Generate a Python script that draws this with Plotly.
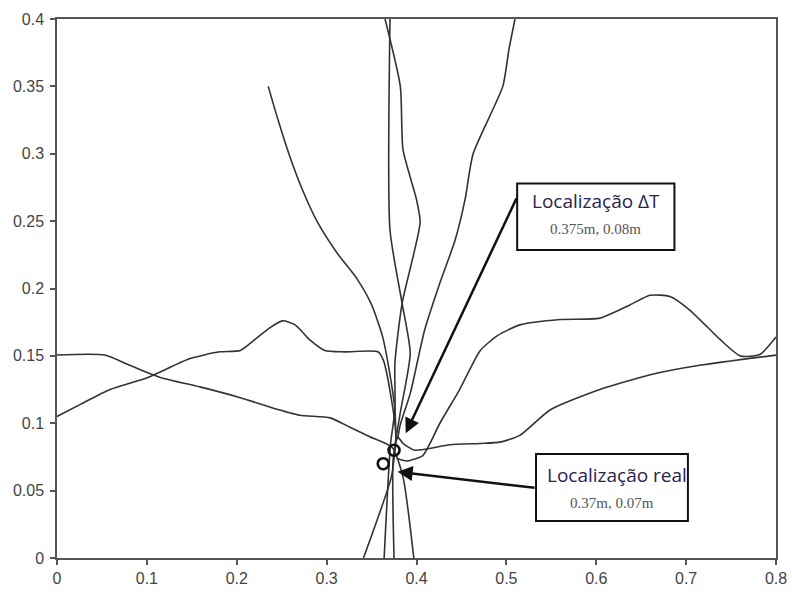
import plotly.graph_objects as go

# ---- data ----
a_x = [0.0, 0.053, 0.081, 0.115, 0.159, 0.204, 0.237, 0.270, 0.304, 0.326, 0.348, 0.373, 0.385, 0.397]
a_y = [0.1506, 0.1506, 0.143, 0.134, 0.127, 0.119, 0.112, 0.106, 0.104, 0.097, 0.090, 0.082, 0.060, 0.0]

b_x = [0.0, 0.026, 0.059, 0.101, 0.148, 0.181, 0.204, 0.220, 0.237, 0.251, 0.265, 0.281, 0.298, 0.320, 0.357, 0.363, 0.374, 0.378]
b_y = [0.105, 0.114, 0.125, 0.134, 0.148, 0.153, 0.154, 0.162, 0.171, 0.176, 0.173, 0.162, 0.154, 0.153, 0.153, 0.147, 0.110, 0.088]

c_x = [0.800, 0.782, 0.760, 0.738, 0.704, 0.682, 0.660, 0.638, 0.604, 0.560, 0.515, 0.490, 0.471, 0.448, 0.426, 0.415, 0.407, 0.389, 0.378]
c_y = [0.164, 0.151, 0.150, 0.162, 0.184, 0.194, 0.195, 0.188, 0.178, 0.177, 0.173, 0.165, 0.154, 0.125, 0.100, 0.085, 0.076, 0.072, 0.074]

d_x = [0.800, 0.715, 0.660, 0.604, 0.549, 0.515, 0.493, 0.471, 0.437, 0.398, 0.385, 0.379, 0.372, 0.341]
d_y = [0.1506, 0.143, 0.136, 0.125, 0.110, 0.091, 0.086, 0.085, 0.084, 0.080, 0.085, 0.090, 0.060, 0.0]

e_x = [0.3705, 0.3705, 0.384, 0.393, 0.382, 0.374, 0.375]
e_y = [0.400, 0.2434, 0.189, 0.152, 0.108, 0.073, 0.0]

f_x = [0.365, 0.382, 0.385, 0.400, 0.404, 0.384, 0.376, 0.376, 0.371, 0.364]
f_y = [0.400, 0.350, 0.303, 0.266, 0.249, 0.189, 0.145, 0.110, 0.084, 0.0]

g_x = [0.235, 0.246, 0.258, 0.272, 0.290, 0.312, 0.334, 0.350, 0.362, 0.370, 0.376, 0.377]
g_y = [0.350, 0.325, 0.300, 0.275, 0.249, 0.226, 0.207, 0.188, 0.165, 0.138, 0.110, 0.088]

h_x = [0.5096, 0.503, 0.496, 0.463, 0.454, 0.443, 0.426, 0.409, 0.393, 0.382, 0.379]
h_y = [0.400, 0.378, 0.350, 0.300, 0.266, 0.236, 0.204, 0.169, 0.122, 0.099, 0.088]

curves = [(a_x, a_y), (b_x, b_y), (c_x, c_y), (d_x, d_y),
          (e_x, e_y), (f_x, f_y), (g_x, g_y), (h_x, h_y)]

# marked locations
dt_loc = (0.375, 0.08)
real_loc = (0.363, 0.07)
dt_label = "Localização ΔT"
dt_value = "0.375m, 0.08m"
real_label = "Localização real"
real_value = "0.37m, 0.07m"

x_ticks = [0, 0.1, 0.2, 0.3, 0.4, 0.5, 0.6, 0.7, 0.8]
y_ticks = [0, 0.05, 0.1, 0.15, 0.2, 0.25, 0.3, 0.35, 0.4]

# ---- figure ----
fig = go.Figure()
for cx, cy in curves:
    fig.add_trace(go.Scatter(x=cx, y=cy, mode="lines",
                             line=dict(color="#333333", width=1.6, shape="spline", smoothing=0.6),
                             hoverinfo="skip"))

fig.add_trace(go.Scatter(x=[dt_loc[0], real_loc[0]], y=[dt_loc[1], real_loc[1]],
                         mode="markers",
                         marker=dict(symbol="circle-open", size=11, color="#111111",
                                     line=dict(width=2.6, color="#111111"))))

# arrows
fig.add_annotation(x=0.388, y=0.0925, ax=0.512, ay=0.268, xref="x", yref="y",
                   axref="x", ayref="y", showarrow=True, arrowhead=2,
                   arrowsize=1.2, arrowwidth=2.5, arrowcolor="#111111", text="")
fig.add_annotation(x=0.379, y=0.064, ax=0.533, ay=0.052, xref="x", yref="y",
                   axref="x", ayref="y", showarrow=True, arrowhead=2,
                   arrowsize=1.2, arrowwidth=2.5, arrowcolor="#111111", text="")

# label boxes
fig.add_shape(type="rect", xref="x", yref="y", x0=0.512, x1=0.687, y0=0.2285, y1=0.278,
              line=dict(color="#111111", width=2), fillcolor="white", layer="above")
fig.add_shape(type="rect", xref="x", yref="y", x0=0.533, x1=0.702, y0=0.0275, y1=0.0772,
              line=dict(color="#111111", width=2), fillcolor="white", layer="above")

label_font = dict(family="Open Sans", size=19, color="#2b2250")
value_font = dict(family="Liberation Serif", size=15, color="#555555")

fig.add_annotation(x=0.5997, y=0.2649, xref="x", yref="y", showarrow=False,
                   text=dt_label, font=label_font)
fig.add_annotation(x=0.5997, y=0.2442, xref="x", yref="y", showarrow=False,
                   text=dt_value, font=value_font)
fig.add_annotation(x=0.6236, y=0.0616, xref="x", yref="y", showarrow=False,
                   text=real_label, font=label_font)
fig.add_annotation(x=0.617, y=0.0408, xref="x", yref="y", showarrow=False,
                   text=real_value, font=value_font)

axis_common = dict(showgrid=False, zeroline=False, showline=True, linecolor="#555555",
                   linewidth=1.5, mirror=True, ticks="outside", ticklen=5,
                   tickcolor="#555555", tickwidth=1.5, automargin=False,
                   tickfont=dict(family="Arial", size=16, color="#444444"))

fig.update_xaxes(range=[0, 0.8], tickvals=x_ticks,
                 ticktext=[f"{v:g}" for v in x_ticks], **axis_common)
fig.update_yaxes(range=[0, 0.4], tickvals=y_ticks, ticklabelstandoff=3,
                 ticktext=[f"{v:g}" for v in y_ticks], **axis_common)

fig.update_layout(width=792, height=592, showlegend=False,
                  paper_bgcolor="white", plot_bgcolor="white",
                  margin=dict(l=57, r=16, t=19, b=34))

fig.write_html("out.html")
